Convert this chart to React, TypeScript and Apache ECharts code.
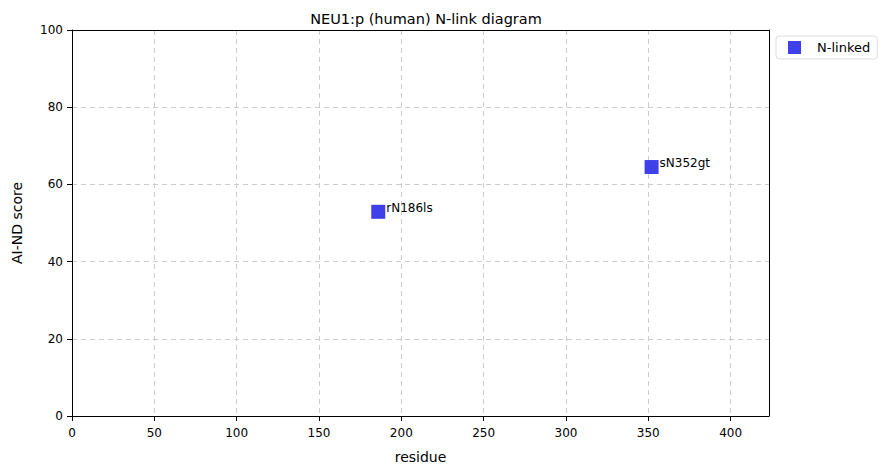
import React, { useEffect, useRef } from "react";
import * as echarts from "echarts";

const residues = [186, 352];
const scores = [52.9, 64.5];
const siteLabels = ["rN186ls", "sN352gt"];
const seriesName = "N-linked";
const xTicks = [0, 50, 100, 150, 200, 250, 300, 350, 400];
const yTicks = [0, 20, 40, 60, 80, 100];

const FONT = "DejaVu Sans";

export default function App() {
  const ref = useRef<HTMLDivElement>(null);
  useEffect(() => {
    if (!ref.current) return;
    const chart = echarts.init(ref.current, undefined, { renderer: "svg" });
    const data = residues.map((r, i) => ({ value: [r, scores[i]], name: siteLabels[i] }));
    const boxAxis = {
      type: "value",
      min: 0,
      axisLine: { show: true, onZero: false, lineStyle: { color: "#000", width: 1 } },
      axisTick: { show: false },
      axisLabel: { show: false },
      splitLine: { show: false },
    };
    chart.setOption({
      animation: false,
      backgroundColor: "#ffffff",
      textStyle: { fontFamily: FONT },
      title: {
        text: "NEU1:p (human) N-link diagram",
        left: 421,
        top: 6,
        textAlign: "center",
        textStyle: { fontFamily: FONT, fontSize: 14.5, fontWeight: "normal", color: "#000" },
      },
      grid: {
        left: 72,
        right: 124,
        top: 30,
        bottom: 58,
      },
      legend: {
        left: 776,
        top: 36,
        orient: "vertical",
        itemWidth: 13,
        itemHeight: 13,
        itemGap: 5,
        padding: [5, 7, 5, 12],
        borderColor: "#dddddd",
        borderWidth: 1,
        borderRadius: 3,
        textStyle: { fontFamily: FONT, fontSize: 13, color: "#000", padding: [0, 0, 0, 11] },
        data: [{ name: seriesName, icon: "rect" }],
      },
      xAxis: [
        {
          type: "value",
          min: 0,
          max: 423.3,
          interval: 50,
          name: "residue",
          nameLocation: "middle",
          nameGap: 34,
          nameTextStyle: { fontFamily: FONT, fontSize: 14, color: "#000" },
          axisLine: { show: true, onZero: false, lineStyle: { color: "#000", width: 1 } },
          axisTick: { show: true, length: 5, lineStyle: { color: "#000" } },
          axisLabel: {
            fontFamily: FONT,
            fontSize: 12,
            color: "#000",
            margin: 11,
            showMaxLabel: false,
            formatter: (v: number) => (xTicks.includes(v) ? String(v) : ""),
          },
          splitLine: { show: true, lineStyle: { color: "#cccccc", type: [5, 4], width: 1 } },
        },
        { ...boxAxis, max: 423.3, position: "top" },
      ],
      yAxis: [
        {
          type: "value",
          min: 0,
          max: 100,
          interval: 20,
          name: "AI-ND score",
          nameLocation: "middle",
          nameGap: 48,
          nameRotate: 90,
          nameTextStyle: { fontFamily: FONT, fontSize: 14, color: "#000" },
          axisLine: { show: true, onZero: false, lineStyle: { color: "#000", width: 1 } },
          axisTick: { show: true, length: 5, lineStyle: { color: "#000" } },
          axisLabel: {
            fontFamily: FONT,
            fontSize: 12,
            color: "#000",
            margin: 9,
            formatter: (v: number) => (yTicks.includes(v) ? String(v) : ""),
          },
          splitLine: { show: true, lineStyle: { color: "#cccccc", type: [5, 4], width: 1 } },
        },
        { ...boxAxis, max: 100, position: "right" },
      ],
      series: [
        {
          name: seriesName,
          type: "scatter",
          symbol: "rect",
          symbolSize: 14,
          itemStyle: { color: "#4040ea", opacity: 1 },
          data,
          label: {
            show: true,
            position: "right",
            distance: 1,
            offset: [0, -4],
            formatter: (p: any) => p.name,
            fontFamily: FONT,
            fontSize: 12,
            color: "#000",
          },
          emphasis: { disabled: true },
        },
      ],
    });
    return () => chart.dispose();
  }, []);
  return (
    <div
      ref={ref}
      style={{ position: "fixed", left: 0, top: 0, width: 893, height: 474 }}
    />
  );
}
